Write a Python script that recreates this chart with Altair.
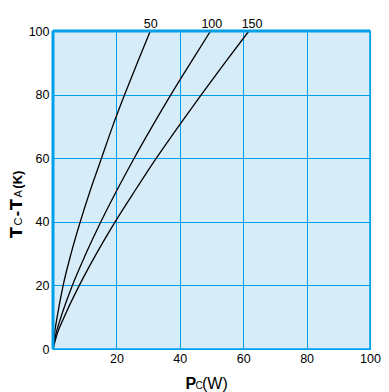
import altair as alt
import pandas as pd

# ---- data ----
y_levels = [0, 5, 10, 20, 30, 40, 50, 60, 70, 80, 90, 100]
x_50 = [0, 0.5, 1.3, 3.2, 5.7, 8.6, 11.8, 15.3, 18.8, 22.6, 26.6, 30.7]
x_100 = [0, 1.0, 2.5, 6.1, 10.4, 15.1, 20.2, 25.6, 31.3, 37.2, 43.4, 49.7]
x_150 = [0, 1.4, 3.5, 8.3, 13.7, 19.6, 26.0, 32.6, 39.6, 46.8, 54.2, 61.8]
series_names = ["50", "100", "150"]

label_text = ["50", "100", "150"]
label_x = [30.8, 50.1, 62.8]
label_y = [100, 100, 100]

grid_values = [0, 10, 20, 30, 40, 50, 60, 70, 80, 90, 100]

rows = []
for name, xs in zip(series_names, [x_50, x_100, x_150]):
    for xv, yv in zip(xs, y_levels):
        rows.append({"series": name, "x": xv, "y": yv})
df = pd.DataFrame(rows)
labels_df = pd.DataFrame({"x": label_x, "y": label_y, "t": label_text})

BLUE = "#00a0e9"
BG = "#d7ecf9"
FONT = "Liberation Sans"

xscale = alt.Scale(domain=[0, 100], nice=False, zero=True)
yscale = alt.Scale(domain=[0, 100], nice=False, zero=True)

x_axis = alt.Axis(values=grid_values, grid=True, gridColor=BLUE, gridWidth=1,
                  domain=False, ticks=False, labelOverlap=False, labelFlush=False,
                  labelExpr="datum.value % 20 == 0 && datum.value > 0 ? datum.label : ''",
                  labelPadding=3, labelFontSize=12.5, labelFont=FONT,
                  labelColor="black", title=None)
y_axis = alt.Axis(values=grid_values, grid=True, gridColor=BLUE, gridWidth=1,
                  domain=False, ticks=False, labelOverlap=False, labelFlush=False,
                  labelExpr="datum.value % 20 == 0 ? datum.label : ''",
                  labelPadding=4, labelFontSize=12.5, labelFont=FONT,
                  labelColor="black", title=None)

lines = alt.Chart(df).mark_line(color="black", strokeWidth=1.3, interpolate="monotone").encode(
    x=alt.X("x:Q", scale=xscale, axis=x_axis),
    y=alt.Y("y:Q", scale=yscale, axis=y_axis),
    detail="series:N",
    order="y:Q",
)

left_edge = alt.Chart(pd.DataFrame({"v": [0]})).mark_rule(color=BLUE, strokeWidth=3).encode(
    x=alt.X("v:Q", scale=xscale))
top_edge = alt.Chart(pd.DataFrame({"v": [100]})).mark_rule(color=BLUE, strokeWidth=3).encode(
    y=alt.Y("v:Q", scale=yscale))

curve_labels = alt.Chart(labels_df).mark_text(
    baseline="alphabetic", align="center", dy=-3, fontSize=12.5, font=FONT, color="black"
).encode(x=alt.X("x:Q", scale=xscale), y=alt.Y("y:Q", scale=yscale), text="t:N")


def piece(txt, px, py, size, bold=False, angle=0, font=FONT):
    return alt.Chart(pd.DataFrame({"t": [txt]})).mark_text(
        align="left", baseline="alphabetic", fontSize=size, font=font,
        fontWeight="bold" if bold else "normal", color="black", angle=angle
    ).encode(text="t:N", x=alt.value(px), y=alt.value(py))


# x title: P_C(W)
xt = [piece("P", 132.5, 358, 16, True), piece("C", 142.5, 358, 10),
      piece("(W)", 149, 358, 16)]
# y title: T_C-T_A(K), rotated
yb = -31
BOLDF = "DejaVu Sans"
yt = [piece("T", yb, 207, 16, True, 270, BOLDF),
      piece("C", yb, 194.6, 11, False, 270),
      piece("-", yb, 185.2, 16, True, 270),
      piece("T", yb, 178.9, 16, True, 270, BOLDF),
      piece("A", yb, 166.5, 11, False, 270),
      piece("(K)", yb, 157.7, 13, True, 270)]

chart = alt.layer(lines, left_edge, top_edge, curve_labels, *xt, *yt).properties(
    width=317, height=318,
    autosize=alt.AutoSizeParams(type="none"),
    padding={"left": 45, "top": 23, "right": 11, "bottom": 45},
).configure_view(fill=BG, stroke=BLUE, strokeWidth=1.5)

chart.save("out.html", embed_options={"renderer": "svg", "actions": False})
